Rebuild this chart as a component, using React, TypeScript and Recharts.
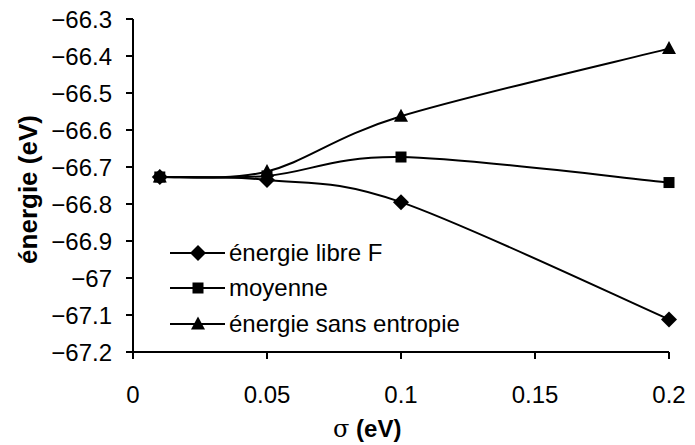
import React from 'react';
import { LineChart, Line, XAxis, YAxis, Legend } from 'recharts';

// sigma (eV) and the three energies
const sigma = [0.01, 0.05, 0.1, 0.2];
const energieLibre = [-66.727, -66.735, -66.795, -67.112];
const moyenne = [-66.727, -66.724, -66.673, -66.742];
const sansEntropie = [-66.727, -66.712, -66.563, -66.38];

const xTicks = [0, 0.05, 0.1, 0.15, 0.2];
const yTicks = [-67.2, -67.1, -67, -66.9, -66.8, -66.7, -66.6, -66.5, -66.4, -66.3];

const seriesKeys = ['libre', 'moyenne', 'sans'];
const seriesNames = ['énergie libre F', 'moyenne', 'énergie sans entropie'];

const data = sigma.map((s, i) => ({
	sigma: s,
	libre: energieLibre[i],
	moyenne: moyenne[i],
	sans: sansEntropie[i],
}));

const FONT = '"Liberation Sans", Arial, sans-serif';

// Excel-like smoothed line (Catmull-Rom as cubic bezier)
const smoothCurve: any = (context: any) => {
	let pts: number[][] = [];
	return {
		areaStart() {},
		areaEnd() {},
		lineStart() {
			pts = [];
		},
		point(x: number, y: number) {
			pts.push([+x, +y]);
		},
		lineEnd() {
			if (!pts.length) return;
			context.moveTo(pts[0][0], pts[0][1]);
			for (let i = 0; i < pts.length - 1; i++) {
				const p0 = pts[i - 1] || pts[i];
				const p1 = pts[i];
				const p2 = pts[i + 1];
				const p3 = pts[i + 2] || pts[i + 1];
				context.bezierCurveTo(
					p1[0] + (p2[0] - p0[0]) / 6,
					p1[1] + (p2[1] - p0[1]) / 6,
					p2[0] - (p3[0] - p1[0]) / 6,
					p2[1] - (p3[1] - p1[1]) / 6,
					p2[0],
					p2[1]
				);
			}
		},
	};
};

function Diamond({ cx, cy }: any) {
	if (cx == null || cy == null) return null;
	const r = 8;
	return <polygon points={`${cx},${cy - r} ${cx + r},${cy} ${cx},${cy + r} ${cx - r},${cy}`} fill="#000" />;
}

function Square({ cx, cy }: any) {
	if (cx == null || cy == null) return null;
	return <rect x={cx - 5.5} y={cy - 5.5} width={11} height={11} fill="#000" />;
}

function Triangle({ cx, cy }: any) {
	if (cx == null || cy == null) return null;
	return <polygon points={`${cx},${cy - 7.5} ${cx + 7},${cy + 5.5} ${cx - 7},${cy + 5.5}`} fill="#000" />;
}

const markers: Record<string, any> = { libre: Diamond, moyenne: Square, sans: Triangle };

function LegendBox({ payload }: any) {
	const items = [...(payload || [])].sort(
		(a: any, b: any) => seriesKeys.indexOf(a.dataKey) - seriesKeys.indexOf(b.dataKey)
	);
	return (
		<div style={{ fontFamily: FONT, fontSize: 24, color: '#000' }}>
			{items.map((entry: any) => {
				const Marker = markers[entry.dataKey];
				return (
					<div key={entry.dataKey} style={{ display: 'flex', alignItems: 'center', height: 35.5 }}>
						<svg width={60} height={20} style={{ display: 'block' }}>
							<line x1={2} y1={10} x2={57} y2={10} stroke="#000" strokeWidth={2} />
							<Marker cx={30} cy={10} />
						</svg>
						<span style={{ marginLeft: 1, whiteSpace: 'nowrap' }}>{entry.value}</span>
					</div>
				);
			})}
		</div>
	);
}

const yLabel = (props: any) => {
	const { viewBox } = props;
	const cx = viewBox.x - 25;
	const cy = viewBox.y + viewBox.height / 2 + 4;
	return (
		<text
			x={cx}
			y={cy}
			transform={`rotate(-90 ${cx} ${cy})`}
			textAnchor="middle"
			dominantBaseline="central"
			fontFamily={FONT}
			fontSize={26}
			fontWeight="bold"
			fill="#000"
		>
			énergie (eV)
		</text>
	);
};

const xLabel = (props: any) => {
	const { viewBox } = props;
	return (
		<text x={viewBox.x + viewBox.width / 2 - 68} y={viewBox.y + 85} textAnchor="start" fill="#000" fontSize={24}>
			<tspan fontFamily='"DejaVu Serif", "Liberation Serif", serif' fontWeight="normal">
				σ
			</tspan>
			<tspan fontFamily={FONT} fontWeight="bold">
				{' (eV)'}
			</tspan>
		</text>
	);
};

export default function App() {
	const tickStyle = { fill: '#000', fontSize: 24, fontFamily: FONT };
	return (
		<div style={{ position: 'absolute', left: 0, top: 0, background: '#fff' }}>
			<LineChart width={695} height={445} data={data} margin={{ top: 19, right: 26, bottom: 23, left: 53 }}>
				<XAxis
					dataKey="sigma"
					type="number"
					domain={[0, 0.2]}
					ticks={xTicks}
					tickFormatter={(v: number) => String(v)}
					height={70}
					tick={tickStyle}
					tickSize={7}
					tickMargin={27}
					axisLine={{ stroke: '#000', strokeWidth: 2 }}
					tickLine={{ stroke: '#000', strokeWidth: 2 }}
					label={{ content: xLabel }}
				/>
				<YAxis
					type="number"
					domain={[-67.2, -66.3]}
					ticks={yTicks}
					tickFormatter={(v: number) => String(Number(v.toFixed(1))).replace('-', '\u2212')}
					width={80}
					tick={tickStyle}
					tickSize={7}
					tickMargin={14}
					interval={0}
					axisLine={{ stroke: '#000', strokeWidth: 2 }}
					tickLine={{ stroke: '#000', strokeWidth: 2 }}
					label={{ content: yLabel }}
				/>
				<Legend
					layout="vertical"
					align="center"
					verticalAlign="middle"
					wrapperStyle={{ left: 168, top: 235, width: 'auto' }}
					content={<LegendBox />}
				/>
				<Line
					type={smoothCurve}
					dataKey="libre"
					name={seriesNames[0]}
					stroke="#000"
					strokeWidth={2}
					dot={<Diamond />}
					activeDot={false}
					isAnimationActive={false}
				/>
				<Line
					type={smoothCurve}
					dataKey="moyenne"
					name={seriesNames[1]}
					stroke="#000"
					strokeWidth={2}
					dot={<Square />}
					activeDot={false}
					isAnimationActive={false}
				/>
				<Line
					type={smoothCurve}
					dataKey="sans"
					name={seriesNames[2]}
					stroke="#000"
					strokeWidth={2}
					dot={<Triangle />}
					activeDot={false}
					isAnimationActive={false}
				/>
			</LineChart>
		</div>
	);
}
